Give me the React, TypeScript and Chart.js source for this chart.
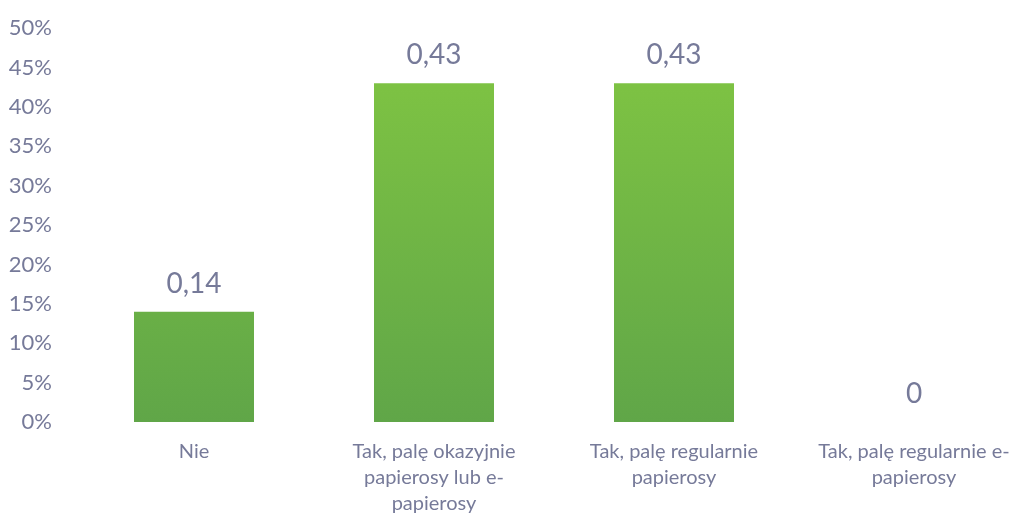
import React, { useEffect, useRef } from "react";
import { Chart, registerables } from "chart.js";

Chart.register(...registerables);

const categories: (string | string[])[] = [
  "Nie",
  ["Tak, palę okazyjnie", "papierosy lub e-", "papierosy"],
  ["Tak, palę regularnie", "papierosy"],
  ["Tak, palę regularnie e-", "papierosy"],
];
const values = [0.14, 0.43, 0.43, 0];
const yTickValues = [0, 0.05, 0.1, 0.15, 0.2, 0.25, 0.3, 0.35, 0.4, 0.45, 0.5];

const TEXT = "#767a99";
const FONT = "Lato, 'Open Sans', sans-serif";

const valueLabels = {
  id: "valueLabels",
  afterDatasetsDraw(chart: any) {
    const ctx = chart.ctx;
    const meta = chart.getDatasetMeta(0);
    ctx.save();
    ctx.fillStyle = TEXT;
    ctx.font = `28px ${FONT}`;
    ctx.textAlign = "center";
    ctx.textBaseline = "bottom";
    meta.data.forEach((el: any, i: number) => {
      const v = values[i];
      const txt = String(v).replace(".", ",");
      ctx.fillText(txt, el.x, el.y - 14);
    });
    ctx.restore();
  },
};

const barGradient = {
  id: "barGradient",
  beforeDatasetsDraw(chart: any) {
    const ctx = chart.ctx;
    const meta = chart.getDatasetMeta(0);
    meta.data.forEach((el: any) => {
      const top = Math.min(el.y, el.base);
      const bottom = Math.max(el.y, el.base);
      if (bottom - top < 1) return;
      const g = ctx.createLinearGradient(0, top, 0, bottom);
      g.addColorStop(0, "#7dc243");
      g.addColorStop(1, "#60a648");
      el.options.backgroundColor = g;
    });
  },
};

const W = 1036;
const H = 525;
const SHIFT = -7;

export default function App() {
  const ref = useRef<HTMLCanvasElement | null>(null);
  useEffect(() => {
    if (!ref.current) return;
    const chart = new Chart(ref.current, {
      type: "bar",
      data: {
        labels: categories,
        datasets: [
          {
            data: values,
            backgroundColor: "#6fb645",
            barPercentage: 0.5,
            categoryPercentage: 1,
          },
        ],
      },
      options: {
        animation: false,
        responsive: false,
        maintainAspectRatio: false,
        layout: { padding: { top: 22, left: 0, right: 2, bottom: 0 } },
        plugins: {
          legend: { display: false },
          tooltip: { enabled: false },
          title: { display: false },
        },
        scales: {
          x: {
            grid: { display: false, drawTicks: false },
            border: { display: false },
            afterFit: (axis: any) => {
              axis.height = 96;
            },
            ticks: {
              color: TEXT,
              font: { family: FONT, size: 20, lineHeight: 1.3 },
              padding: 17,
              maxRotation: 0,
              autoSkip: false,
            },
          },
          y: {
            min: 0,
            max: 0.5,
            afterBuildTicks: (axis: any) => {
              axis.ticks = yTickValues.map((v) => ({ value: v }));
            },
            afterFit: (axis: any) => {
              axis.width = 74;
            },
            grid: { display: false, drawTicks: false },
            border: { display: false },
            ticks: {
              color: TEXT,
              font: { family: FONT, size: 22 },
              padding: 22,
              callback: (v: any) => `${Math.round(Number(v) * 100)}%`,
            },
          },
        },
      },
      plugins: [barGradient, valueLabels],
    });
    return () => chart.destroy();
  }, []);
  return (
    <div style={{ position: "fixed", left: 0, top: 0, width: 1026, height: 518, overflow: "hidden", background: "#fff" }}>
      <canvas
        ref={ref}
        width={W}
        height={H}
        style={{ width: W, height: H, display: "block", position: "absolute", left: 0, top: SHIFT }}
      />
    </div>
  );
}
